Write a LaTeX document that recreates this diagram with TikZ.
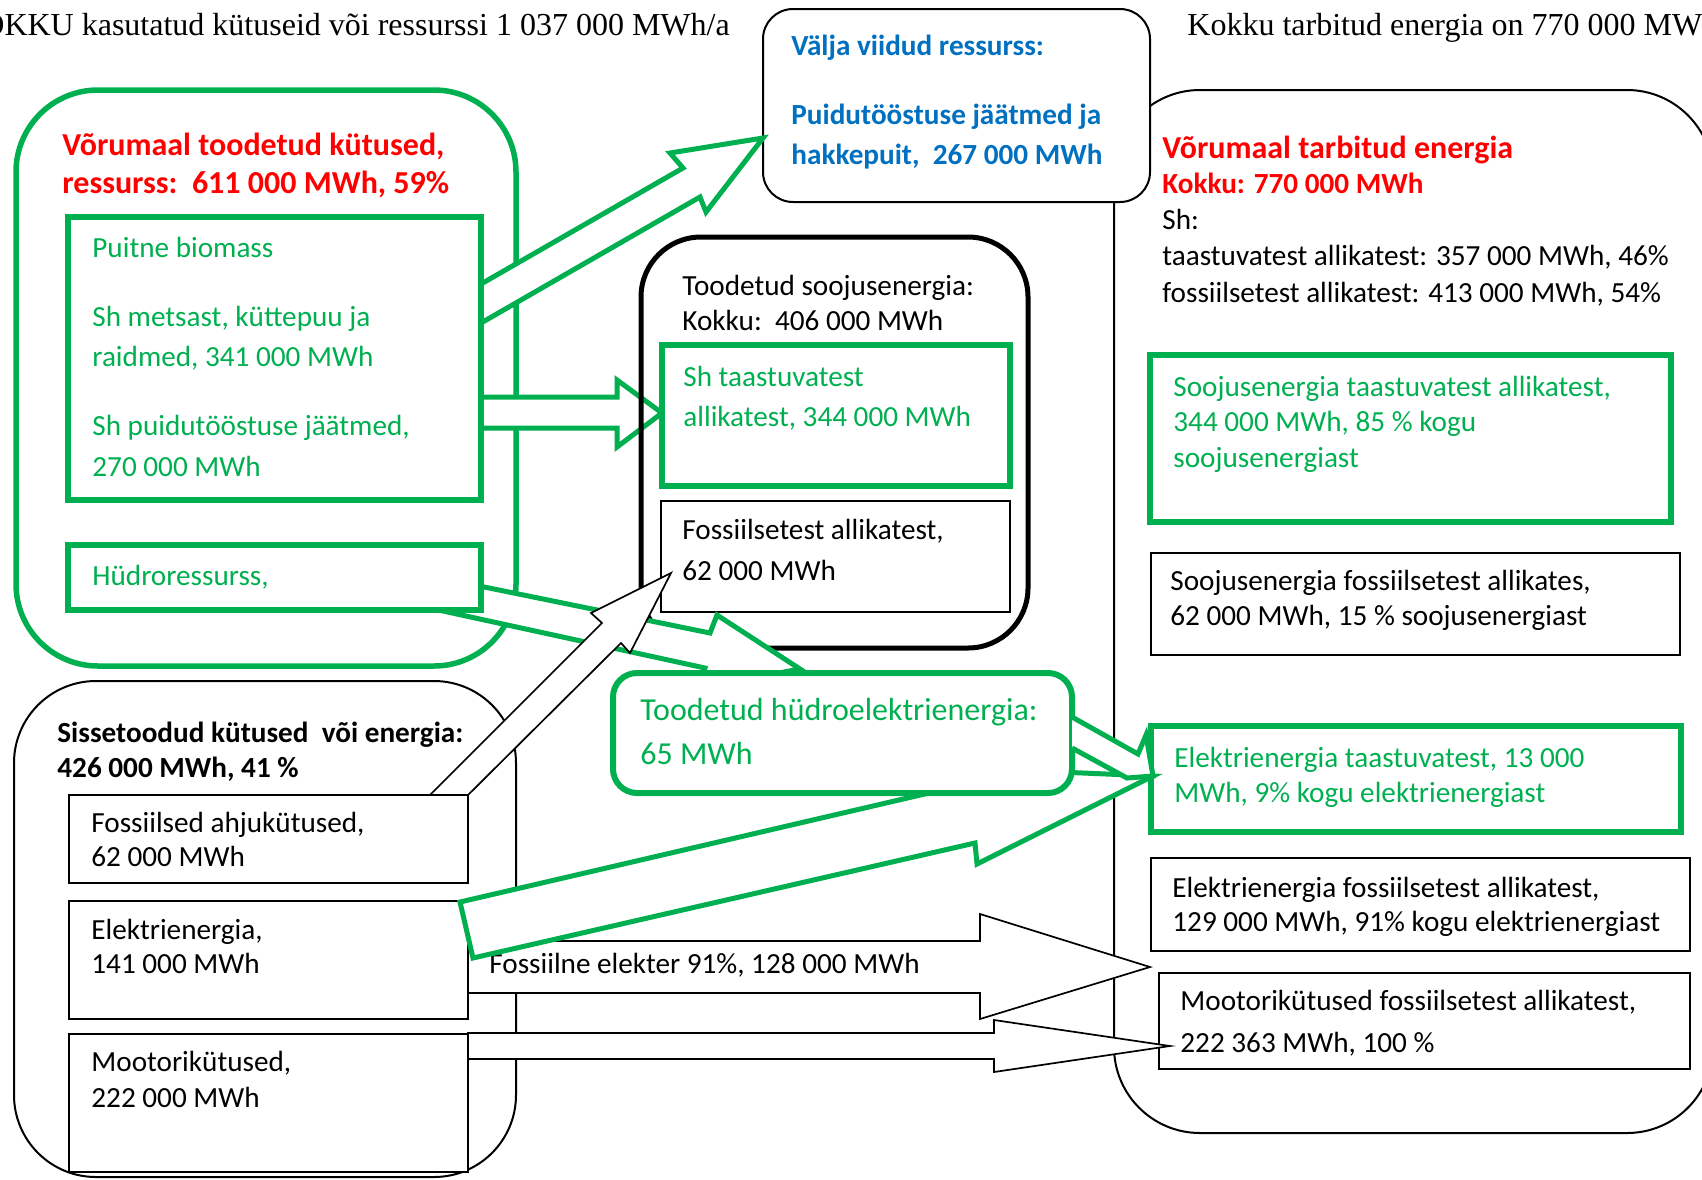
\documentclass[tikz,border=0pt]{standalone}
\usepackage{fontspec}
\setmainfont{Carlito}
\newfontfamily\timesf{Liberation Serif}
\definecolor{vgreen}{HTML}{00B050}
\definecolor{vred}{HTML}{FF0000}
\definecolor{vblue}{HTML}{0070C0}
\begin{document}
\begin{tikzpicture}[x=0.5pt,y=-0.5pt,
  txt/.style={anchor=base west,inner sep=0pt,font=\fontsize{14.6}{17}\selectfont},
  bigtxt/.style={anchor=base west,inner sep=0pt,font=\fontsize{16}{19}\selectfont},
  ttl/.style={anchor=base west,inner sep=0pt,font=\timesf\fontsize{16}{19}\selectfont},
  gbox/.style={draw=vgreen,line width=3.2pt,fill=white},
  bbox/.style={draw=black,line width=1pt,fill=white},
  garrow/.style={draw=vgreen,line width=2.5pt,fill=white,line join=miter},
  warrow/.style={draw=black,line width=0.85pt,fill=white,line join=miter}]
\useasboundingbox (0,0) rectangle (1702,1179);
\clip (0,0) rectangle (1702,1179);

% titles
\node[ttl] (title1) at (-19,35) {OKKU kasutatud kütuseid või ressurssi 1 037 000 MWh/a};
\node[ttl] (title2) at (1187,35) {Kokku tarbitud energia on 770 000 MW};

% big containers
\draw[draw=vgreen,line width=2.75pt,rounded corners=41pt] (16,90) rectangle (516,666);
\draw[line width=1pt,rounded corners=41pt] (14,681) rectangle (516,1177);
\draw[line width=1pt,rounded corners=43pt] (1114,90) rectangle (1713,1133);

% right inner boxes
\draw[gbox] (1150,355) rectangle (1671,522);
\draw[bbox] (1151,553) rectangle (1680,655);
\draw[gbox] (1151,726) rectangle (1681,832);
\draw[bbox] (1151,858) rectangle (1690,951);
\draw[bbox] (1159,973) rectangle (1690,1069);

% blue box
\draw[line width=1pt,fill=white,rounded corners=15pt] (763,9) rectangle (1150,202);

% arrow a (to blue box)
\draw[garrow] (481,284) -- (683,168) -- (670,153) -- (763,138) -- (706,212) -- (700,197) -- (481,323) -- cycle;
% arrow b (to heat box)
\draw[garrow] (481,397) -- (617,397) -- (617,380) -- (662,413) -- (617,447) -- (617,428) -- (481,428) -- cycle;

% heat container
\draw[line width=2.5pt,rounded corners=30pt] (641,237) rectangle (1028,648);
\draw[gbox] (662,345) rectangle (1010,486);
\draw[bbox] (661,501) rectangle (1010,612);

% arrow c (hydro resource to hydro electricity)
\draw[garrow] (440,578) -- (710,633) -- (717,615) -- (800,669) -- (699,688) -- (705,668) -- (420,606) -- cycle;

% left green boxes
\draw[gbox] (68,217) rectangle (481,500);
\draw[gbox] (68,545) rectangle (481,610);

% arrow d (fossil heating fuels)
\draw[warrow] (430,795) -- (602,623) -- (591,613) -- (671,573) -- (630,653) -- (621,643) -- (468,795) -- cycle;

% lower left boxes
\draw[bbox] (69,795) rectangle (468,883);
\draw[bbox] (69,901) rectangle (468,1019);
\draw[bbox] (69,1034) rectangle (468,1172);

% arrows g, h
\draw[warrow] (468,941) -- (980,941) -- (980,914) -- (1150,967) -- (980,1019) -- (980,993) -- (468,993) -- cycle;
\draw[warrow] (468,1033) -- (994,1033) -- (994,1020) -- (1170,1046) -- (994,1072) -- (994,1059) -- (468,1059) -- cycle;
\node[txt] (lblg) at (489,973) {Fossiilne elekter 91\%, 128 000 MWh};

% arrow e (electricity import renewable share)
\draw[garrow] (460,902) -- (972,783) -- (966,768) -- (1153,776) -- (977,864) -- (975,843) -- (473,958) -- cycle;

% hydro electricity box
\draw[draw=vgreen,line width=3pt,fill=white,rounded corners=12pt] (613,673) rectangle (1072,793);

% arrow f
\draw[garrow] (1072,717) -- (1138,754) -- (1146,735) -- (1153,776) -- (1127,778) -- (1072,748);

% ---- texts ----
\node[txt,font=\bfseries\fontsize{14.6}{17}\selectfont,text=vblue] (b1) at (791,55) {Välja viidud ressurss:};
\node[txt,font=\bfseries\fontsize{14.6}{17}\selectfont,text=vblue] (b2) at (791,124) {Puidutööstuse jäätmed ja};
\node[txt,font=\bfseries\fontsize{14.6}{17}\selectfont,text=vblue] (b3) at (791,164) {hakkepuit,~~267 000 MWh};

\node[bigtxt,font=\bfseries\fontsize{16}{19}\selectfont,text=vred] (r1) at (62,155) {Võrumaal toodetud kütused,};
\node[bigtxt,font=\bfseries\fontsize{16}{19}\selectfont,text=vred] (r2) at (62,193) {ressurss:~~611 000 MWh, 59\%};

\node[txt,text=vgreen] (p1) at (92,257) {Puitne biomass};
\node[txt,text=vgreen] (p2) at (92,326) {Sh metsast, küttepuu ja};
\node[txt,text=vgreen] (p3) at (92,366) {raidmed, 341 000 MWh};
\node[txt,text=vgreen] (p4) at (92,435) {Sh puidutööstuse jäätmed,};
\node[txt,text=vgreen] (p5) at (92,476) {270 000 MWh};
\node[txt,text=vgreen] (h1) at (92,585) {Hüdroressurss,};

\node[txt] (s1) at (682,295) {Toodetud soojusenergia:};
\node[txt] (s2) at (682,330) {Kokku:~~406 000 MWh};
\node[txt,text=vgreen] (s3) at (683,386) {Sh taastuvatest};
\node[txt,text=vgreen] (s4) at (683,426) {allikatest, 344 000 MWh};
\node[txt] (s5) at (682,539) {Fossiilsetest allikatest,};
\node[txt] (s6) at (682,580) {62 000 MWh};

\node[bigtxt,text=vgreen] (e1) at (640,720) {Toodetud hüdroelektrienergia:};
\node[bigtxt,text=vgreen] (e2) at (640,764) {65 MWh};

\node[bigtxt,font=\bfseries\fontsize{16}{19}\selectfont,text=vred] (c1) at (1162,158) {Võrumaal tarbitud energia};
\node[txt,font=\bfseries\fontsize{14.6}{17}\selectfont,text=vred] (c2) at (1162,193) {Kokku: 770 000 MWh};
\node[txt] (c3) at (1162,229) {Sh:};
\node[txt] (c4) at (1162,265) {taastuvatest allikatest: 357 000 MWh, 46\%};
\node[txt] (c5) at (1162,302) {fossiilsetest allikatest: 413 000 MWh, 54\%};

\node[txt,text=vgreen] (g1) at (1173,396) {Soojusenergia taastuvatest allikatest,};
\node[txt,text=vgreen] (g2) at (1173,431) {344 000 MWh, 85 \% kogu};
\node[txt,text=vgreen] (g3) at (1173,467) {soojusenergiast};
\node[txt] (k1) at (1170,590) {Soojusenergia fossiilsetest allikates,};
\node[txt] (k2) at (1170,625) {62 000 MWh, 15 \% soojusenergiast};
\node[txt,text=vgreen] (g4) at (1174,767) {Elektrienergia taastuvatest, 13 000};
\node[txt,text=vgreen] (g5) at (1174,802) {MWh, 9\% kogu elektrienergiast};
\node[txt] (k3) at (1172,897) {Elektrienergia fossiilsetest allikatest,};
\node[txt] (k4) at (1172,931) {129 000 MWh, 91\% kogu elektrienergiast};
\node[txt] (k5) at (1180,1010) {Mootorikütused fossiilsetest allikatest,};
\node[txt] (k6) at (1180,1052) {222 363 MWh, 100 \%};

\node[txt,font=\bfseries\fontsize{14.6}{17}\selectfont] (l1) at (57,742) {Sissetoodud kütused~~või energia:};
\node[txt,font=\bfseries\fontsize{14.6}{17}\selectfont] (l2) at (57,777) {426 000 MWh, 41 \%};
\node[txt] (f1) at (91,832) {Fossiilsed ahjukütused,};
\node[txt] (f2) at (91,866) {62 000 MWh};
\node[txt] (f3) at (91,939) {Elektrienergia,};
\node[txt] (f4) at (91,973) {141 000 MWh};
\node[txt] (f5) at (91,1071) {Mootorikütused,};
\node[txt] (f6) at (91,1107) {222 000 MWh};
\end{tikzpicture}
\end{document}
